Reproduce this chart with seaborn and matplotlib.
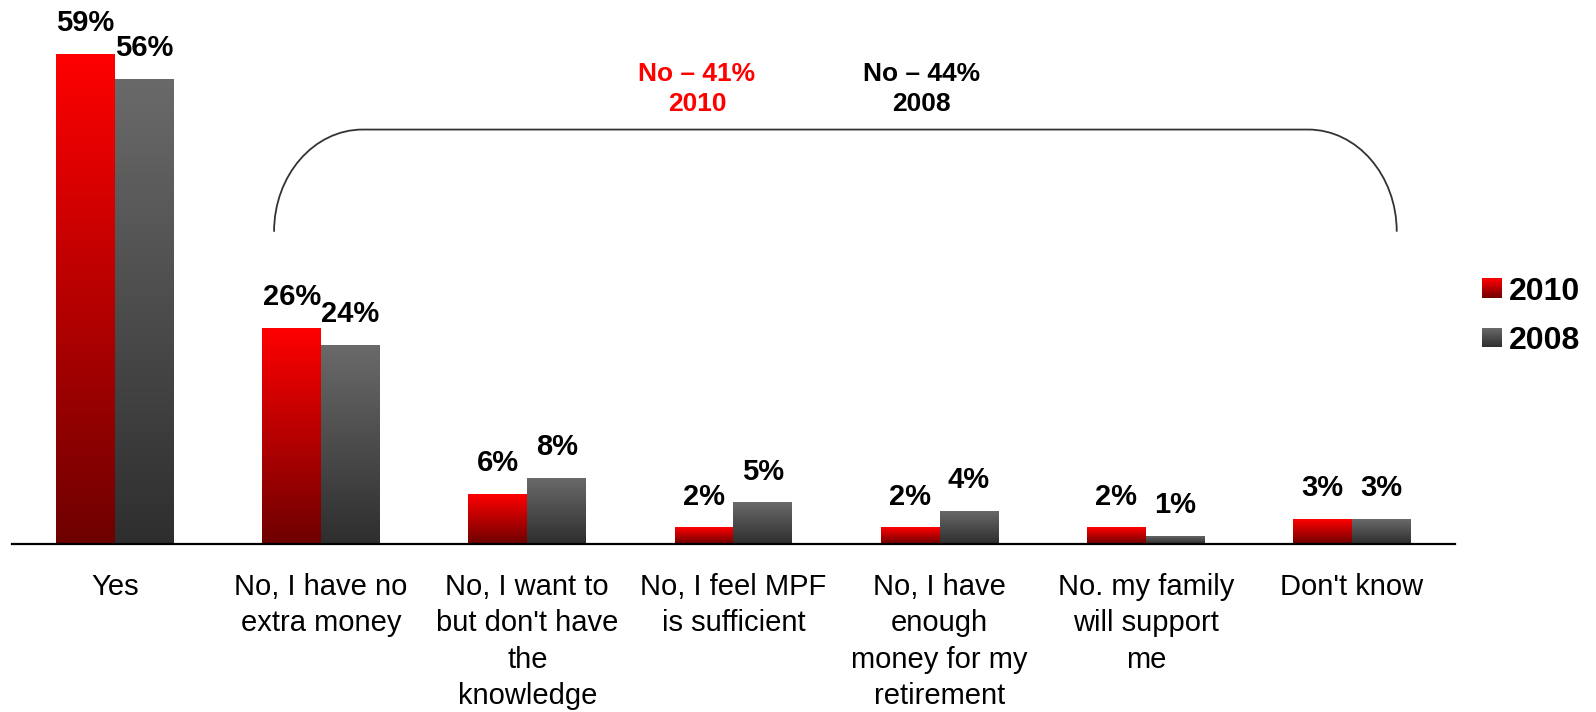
import numpy as np
import pandas as pd
import matplotlib
matplotlib.use("Agg")
import matplotlib.pyplot as plt
import seaborn as sns
from matplotlib.colors import LinearSegmentedColormap
from matplotlib.patches import Rectangle, PathPatch
from matplotlib.path import Path
from matplotlib.legend_handler import HandlerBase

# ---- data -------------------------------------------------------------
categories = [
    "Yes",
    "No, I have no\nextra money",
    "No, I want to\nbut don't have\nthe\nknowledge",
    "No, I feel MPF\nis sufficient",
    "No, I have\nenough\nmoney for my\nretirement",
    "No. my family\nwill support\nme",
    "Don't know",
]
years = ["2010", "2008"]
values_2010 = [59, 26, 6, 2, 2, 2, 3]
values_2008 = [56, 24, 8, 5, 4, 1, 3]
no_labels = {"2010": "No – 41%\n2010", "2008": "No – 44%\n2008"}

df = pd.DataFrame({
    "answer": categories * 2,
    "year": [years[0]] * len(categories) + [years[1]] * len(categories),
    "pct": values_2010 + values_2008,
})

# ---- styling ----------------------------------------------------------
sns.set_style("white")
plt.rcParams["font.family"] = ["Liberation Sans", "DejaVu Sans"]
plt.rcParams["text.color"] = "black"
plt.rcParams["xtick.color"] = "black"
plt.rcParams["xtick.labelcolor"] = "black"

# gradient (top -> bottom) for each series
grad_colors = {
    "2010": ("#FF0000", "#6E0000"),
    "2008": ("#6A6A6A", "#2E2E2E"),
}
solid = {"2010": "#C00000", "2008": "#505050"}
cmaps = {k: LinearSegmentedColormap.from_list(k, [v[1], v[0]]) for k, v in grad_colors.items()}

fig = plt.figure(figsize=(15.96, 7.12), dpi=100)
ax = fig.add_axes([0.0074, 0.236, 0.9043, 0.764])

sns.barplot(data=df, x="answer", y="pct", hue="year", hue_order=years,
            palette=solid, width=0.57, gap=0, dodge=True, ax=ax,
            legend=False, errorbar=None, zorder=2)

ax.set_xlim(-0.5, len(categories) - 0.5)
ax.set_ylim(0, 65.5)

# paint a vertical gradient inside every bar
grad = np.linspace(0, 1, 256).reshape(-1, 1)
for year, container in zip(years, ax.containers):
    for patch in container.patches:
        x, w, h = patch.get_x(), patch.get_width(), patch.get_height()
        im = ax.imshow(grad, extent=[x, x + w, 0, h], origin="lower",
                       aspect="auto", cmap=cmaps[year], zorder=2.5,
                       interpolation="bilinear")
        im.set_clip_path(patch)
    ax.bar_label(container, fmt="{:.0f}%", padding=12, fontsize=21,
                 fontweight="bold", color="black")

ax.set_xlim(-0.5, len(categories) - 0.5)
ax.set_ylim(0, 65.5)

# axes: only the baseline with small inward boundary ticks
for side in ("top", "right", "left"):
    ax.spines[side].set_visible(False)
ax.spines["bottom"].set_color("black")
ax.spines["bottom"].set_linewidth(1.6)
ax.set_yticks([])
ax.set_xlabel("")
ax.set_ylabel("")
ax.set_xticks(range(len(categories)))
ax.set_xticklabels(categories, fontsize=21, linespacing=1.38, color="black")
ax.set_xticks(np.arange(-0.5, len(categories)), minor=True)
ax.tick_params(axis="x", which="major", length=0, pad=21)
ax.tick_params(axis="x", which="minor", direction="in", length=5,
               width=1.3, color="black")

# bracket grouping all the "No" answers
x0, x1 = 0.772, 6.217
yb, yt = 37.6, 49.9
rx = 0.43
ry = yt - yb
k = 0.5523
verts = [
    (x0, yb),
    (x0, yb + k * ry), (x0 + rx - k * rx, yt), (x0 + rx, yt),
    (x1 - rx, yt),
    (x1 - rx + k * rx, yt), (x1, yb + k * ry), (x1, yb),
]
codes = [Path.MOVETO, Path.CURVE4, Path.CURVE4, Path.CURVE4, Path.LINETO,
         Path.CURVE4, Path.CURVE4, Path.CURVE4]
ax.add_patch(PathPatch(Path(verts, codes), fill=False, edgecolor="#333333",
                       linewidth=1.3, zorder=3))

ax.text(2.823, 54.75, no_labels["2010"], ha="center", va="center",
        fontsize=19, fontweight="bold", color="#FF0000", linespacing=1.3)
ax.text(3.914, 54.75, no_labels["2008"], ha="center", va="center",
        fontsize=19, fontweight="bold", color="black", linespacing=1.3)


# legend with gradient swatches
class GradientSwatch(HandlerBase):
    def __init__(self, cmap, n=16):
        super().__init__()
        self.cmap = cmap
        self.n = n

    def create_artists(self, legend, orig_handle, xdescent, ydescent,
                       width, height, fontsize, trans):
        arts = []
        step = height / self.n
        for i in range(self.n):
            c = self.cmap((i + 0.5) / self.n)
            arts.append(Rectangle((-xdescent, -ydescent + i * step), width,
                                  step * 1.05, facecolor=c, edgecolor="none",
                                  transform=trans))
        return arts


handles = [Rectangle((0, 0), 1, 1, facecolor=solid[y]) for y in years]
fig.legend(handles, years, loc="center left",
           bbox_to_anchor=(1482 / 1596, 0.556), frameon=False,
           prop={"size": 23, "weight": "bold"},
           handlelength=0.63, handleheight=0.57, handletextpad=0.2,
           labelspacing=0.6, borderpad=0, borderaxespad=0,
           handler_map={h: GradientSwatch(cmaps[y]) for h, y in zip(handles, years)})

fig.savefig("out.png", dpi=100)
